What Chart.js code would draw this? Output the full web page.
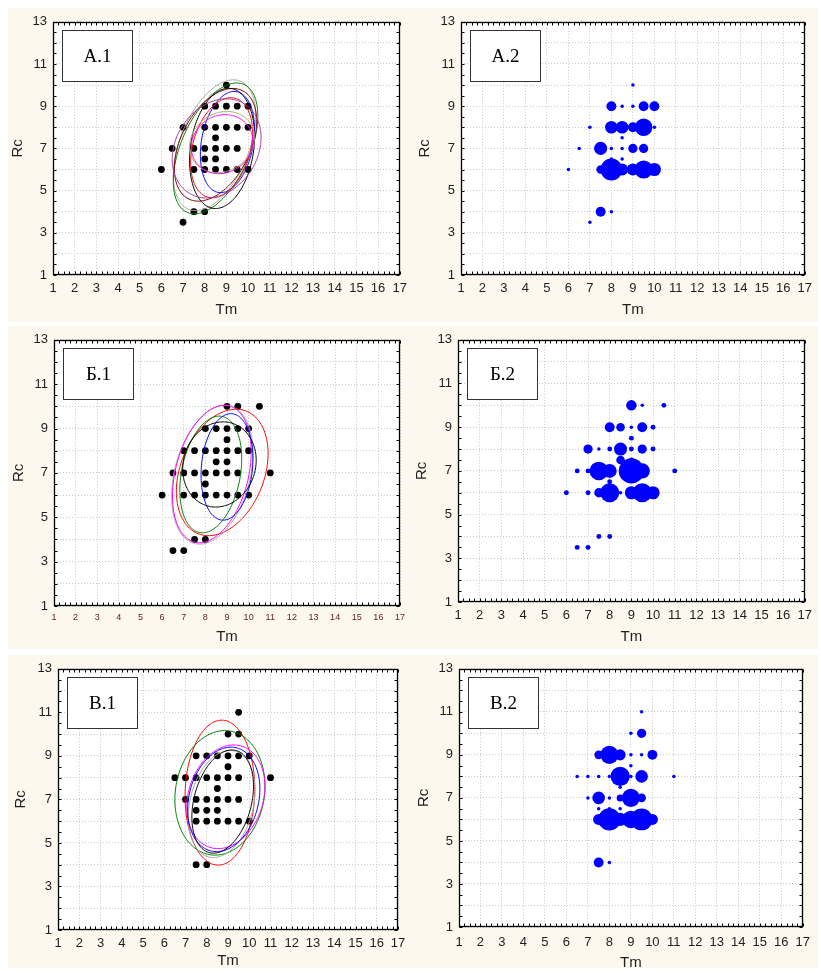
<!DOCTYPE html>
<html>
<head>
<meta charset="utf-8">
<script src="https://cdn.jsdelivr.net/npm/chart.js@4.4.0/dist/chart.umd.min.js"></script>
<style>
  body { margin: 0; background: #fff; width: 821px; height: 973px; position: relative; overflow: hidden; }
  .band { position: absolute; left: 8px; width: 810px; background: #fdf8ee; }
  canvas { position: absolute; }
</style>
</head>
<body>
<div class="band" style="top:8px;height:314px"></div>
<div class="band" style="top:326px;height:323px"></div>
<div class="band" style="top:655px;height:313px"></div>
<canvas id="a1"></canvas><canvas id="a2"></canvas>
<canvas id="b1"></canvas><canvas id="b2"></canvas>
<canvas id="c1"></canvas><canvas id="c2"></canvas>
<script>
// group А: cell positions (Tm, Rc) and number of cases per cell
const tmA = [9, 8, 8.5, 9, 9.5, 10, 7, 8, 8.5, 9, 9.5, 10, 8.5, 6.5, 7.5, 8, 8.5, 9, 9.5, 8, 8.5, 6, 7.5, 8, 8.5, 9, 9.5, 10, 7.5, 8, 7];
const rcA = [10, 9, 9, 9, 9, 9, 8, 8, 8, 8, 8, 8, 7.5, 7, 7, 7, 7, 7, 7, 6.5, 6.5, 6, 6, 6, 6, 6, 6, 6, 4, 4, 3.5];
const nA  = [1, 8, 1, 1, 8, 8, 1, 13, 13, 8, 25, 1, 1, 1, 14, 1, 1, 7, 7, 1, 1, 1, 6, 39, 12, 12, 27, 14, 8, 1, 1];

// group Б
const tmB = [9, 9.5, 10.5, 8, 8.5, 9, 9.5, 10, 9, 7, 7.5, 8, 8.5, 9, 9.5, 10, 8.5, 9, 6.5, 7, 7.5, 8, 8.5, 9, 9.5, 11, 8, 6, 7, 7.5, 8, 8.5, 9, 9.5, 10, 7.5, 8, 6.5, 7];
const rcB = [10, 10, 10, 9, 9, 9, 9, 9, 8.5, 8, 8, 8, 8, 8, 8, 8, 7.5, 7.5, 7, 7, 7, 7, 7, 7, 7, 7, 6.5, 6, 6, 6, 6, 6, 6, 6, 6, 4, 4, 3.5, 3.5];
const nB  = [9, 1, 2, 8, 6, 1, 8, 2, 2, 7, 1, 2, 14, 2, 7, 2, 6, 2, 2, 2, 28, 16, 1, 52, 19, 2, 2, 2, 2, 7, 30, 1, 14, 30, 14, 2, 2, 2, 2];

// group В
const tmC = [9.5, 9, 9.5, 7.5, 8, 8.5, 9, 9.5, 10, 9, 6.5, 7, 7.5, 8, 8.5, 9, 9.5, 11, 8.5, 7, 7.5, 8, 8.5, 9, 9.5, 7.5, 8, 8.5, 7.5, 8, 8.5, 9, 9.5, 10, 7.5, 8];
const rcC = [11, 10, 10, 9, 9, 9, 9, 9, 9, 8.5, 8, 8, 8, 8, 8, 8, 8, 8, 7.5, 7, 7, 7, 7, 7, 7, 6.5, 6.5, 6.5, 6, 6, 6, 6, 6, 6, 4, 4];
const nC  = [1, 1, 7, 6, 27, 10, 1, 1, 8, 1, 1, 1, 1, 1, 30, 1, 13, 1, 1, 1, 13, 1, 4, 27, 6, 1, 1, 1, 10, 41, 14, 25, 39, 10, 8, 1];

// ellipses: [centre Tm, centre Rc, half-width, half-height, correlation]
const ellipsesA = [[8.45, 7.15, 1.9, 3.1, 0.46], [8.5, 7.0, 1.95, 3.1, 0.5], [8.5, 7.17, 1.9, 2.67, 0.42], [8.8, 7.0, 1.5, 2.85, 0.2],
                   [9.05, 7.3, 1.25, 2.4, 0.25], [8.78, 7.03, 1.43, 2.37, 0.3], [8.55, 7.0, 2.05, 2.35, 0.22], [8.8, 7.3, 1.5, 1.45, 0.15], [8.8, 7.2, 1.42, 1.4, 0.1]];
const coloursA = ['#a8a8a8', '#008000', '#800000', '#000000', '#0000ff', '#ff0000', '#a040a0', '#b0b060', '#ff00ff'];
const ellipsesB = [[8.78, 7.02, 2.12, 2.85, 0.3], [8.32, 6.92, 1.88, 3.13, 0.31], [8.3, 6.95, 1.82, 3.1, 0.32], [8.25, 6.93, 1.43, 2.63, 0.27],
                   [9.0, 7.27, 1.2, 2.4, 0.15], [8.65, 7.38, 1.7, 1.92, 0.1]];
const coloursB = ['#ff0000', '#a8a8a8', '#ff00ff', '#008000', '#0000ff', '#000000'];
const ellipsesC = [[8.62, 7.31, 1.64, 3.33, 0.05], [8.62, 7.3, 2.12, 2.86, 0.11], [8.7, 6.79, 1.57, 2.46, 0.25], [8.9, 7.12, 1.84, 2.38, 0.2],
                   [8.8, 7.0, 1.7, 2.4, 0.2], [8.75, 6.9, 1.45, 2.37, 0.3]];
const coloursC = ['#ff0000', '#008000', '#a8a8a8', '#ff00ff', '#0000ff', '#000000'];

const panels = [
  { id: 'a1', label: 'А.1', tm: tmA, rc: rcA, n: nA, ell: ellipsesA, col: coloursA, box: [8, 8, 405, 314],   area: [53, 18, 401, 275],  tmY: 310, rcX: 17.5, xFont: 13 },
  { id: 'a2', label: 'А.2', tm: tmA, rc: rcA, n: nA, bubbles: true,                 box: [413, 8, 405, 314], area: [461, 19, 810, 275], tmY: 310, rcX: 425, xFont: 13 },
  { id: 'b1', label: 'Б.1', tm: tmB, rc: rcB, n: nB, ell: ellipsesB, col: coloursB, box: [8, 326, 405, 323], area: [54, 339, 400, 606], tmY: 637, rcX: 19, xFont: 9 },
  { id: 'b2', label: 'Б.2', tm: tmB, rc: rcB, n: nB, bubbles: true,                 box: [413, 326, 405, 323], area: [458, 338, 809, 602], tmY: 637, rcX: 422, xFont: 13 },
  { id: 'c1', label: 'В.1', tm: tmC, rc: rcC, n: nC, ell: ellipsesC, col: coloursC, box: [8, 655, 405, 318], area: [58, 665, 398, 930], tmY: 961, rcX: 21, xFont: 13 },
  { id: 'c2', label: 'В.2', tm: tmC, rc: rcC, n: nC, bubbles: true,                 box: [413, 655, 405, 318], area: [459, 664, 810, 927], tmY: 963, rcX: 424, xFont: 13 }
];

const sans = '"Liberation Sans", Arial, sans-serif';
const bubbleRadius = c => 1.75 * Math.sqrt(c.raw.n);

// white plot field, frame with minor ticks, ellipses and the panel caption box
const panelDecor = {
  id: 'panelDecor',
  beforeDraw(chart) {
    const { ctx, chartArea: a } = chart;
    ctx.save();
    ctx.fillStyle = '#fff';
    ctx.fillRect(a.left, a.top, a.right - a.left, a.bottom - a.top);
    ctx.restore();
  },
  afterDatasetsDraw(chart, args, opts) {
    const { ctx, chartArea: a, scales: { x, y } } = chart;
    ctx.save();
    (opts.ellipses || []).forEach((e, i) => {
      const [cx, cy, hx, hy, r] = e;
      const s = Math.sqrt(1 - r * r);
      ctx.beginPath();
      for (let k = 0; k <= 180; k++) {
        const t = k / 180 * Math.PI * 2;
        const px = x.getPixelForValue(cx + hx * Math.cos(t));
        const py = y.getPixelForValue(cy + hy * (r * Math.cos(t) + s * Math.sin(t)));
        if (k === 0) ctx.moveTo(px, py); else ctx.lineTo(px, py);
      }
      ctx.closePath();
      ctx.strokeStyle = opts.colours[i];
      ctx.lineWidth = 1;
      ctx.stroke();
    });

    const L = Math.round(a.left) + 0.5, T = Math.round(a.top) + 0.5;
    const R = Math.round(a.right) - 0.5, B = Math.round(a.bottom) - 0.5;
    ctx.strokeStyle = '#000';
    ctx.lineWidth = 1;
    ctx.beginPath();
    for (let v = 1; v <= 17.001; v += 0.25) {
      const px = Math.round(x.getPixelForValue(v)) + 0.5;
      ctx.moveTo(px, T); ctx.lineTo(px, T + 3);
      ctx.moveTo(px, B); ctx.lineTo(px, B - 3);
    }
    for (let v = 1; v <= 13.001; v += 0.5) {
      const py = Math.round(y.getPixelForValue(v)) + 0.5;
      ctx.moveTo(L, py); ctx.lineTo(L + 3, py);
      ctx.moveTo(R, py); ctx.lineTo(R - 3, py);
    }
    ctx.stroke();
    ctx.lineWidth = 1.3;
    ctx.strokeRect(L, T, R - L, B - T);

    const bx = Math.round(a.left) + 9.5, by = Math.round(a.top) + 8.5, bw = 70, bh = 51;
    ctx.fillStyle = '#fff';
    ctx.fillRect(bx, by, bw, bh);
    ctx.lineWidth = 1;
    ctx.strokeStyle = '#333';
    ctx.strokeRect(bx, by, bw, bh);
    ctx.fillStyle = '#000';
    ctx.font = '19px "Liberation Serif", "Times New Roman", serif';
    ctx.textAlign = 'center';
    ctx.textBaseline = 'middle';
    ctx.fillText(opts.label, bx + bw / 2, by + bh / 2 + 1);
    ctx.restore();
  }
};

function makeChart(p) {
  const canvas = document.getElementById(p.id);
  const [bx, by, bw, bh] = p.box;
  const [L, T, R, B] = p.area;
  canvas.width = bw; canvas.height = bh;
  canvas.style.left = bx + 'px'; canvas.style.top = by + 'px';

  const points = p.tm.map((v, i) => ({ x: v, y: p.rc[i], n: p.n[i] }));
  const dataset = p.bubbles
    ? { data: points, backgroundColor: '#0000ff', borderWidth: 0, pointRadius: bubbleRadius, pointHoverRadius: bubbleRadius }
    : { data: points, backgroundColor: '#000', borderWidth: 0, pointRadius: 3.4 };

  new Chart(canvas, {
    type: 'scatter',
    data: { datasets: [dataset] },
    plugins: [panelDecor],
    options: {
      responsive: false,
      animation: false,
      devicePixelRatio: 1,
      layout: { padding: { left: 0, top: T - by, right: bx + bw - R, bottom: 0 } },
      plugins: {
        legend: { display: false },
        tooltip: { enabled: false },
        panelDecor: { label: p.label, ellipses: p.ell, colours: p.col }
      },
      scales: {
        x: {
          type: 'linear', min: 1, max: 17,
          afterFit: s => { s.height = by + bh - B; },
          ticks: { stepSize: 1, autoSkip: false, maxRotation: 0, padding: p.id === 'c2' ? 8 : 6,
                   color: p.xFont < 10 ? '#5e1c1c' : '#1e1e1e', font: { family: sans, size: p.xFont } },
          grid: { color: '#c8c8c8', lineWidth: 1, drawTicks: false },
          border: { display: false, dash: [1, 2] },
          title: { display: true, text: 'Tm', color: '#1e1e1e', font: { family: sans, size: 15, lineHeight: 1 },
                   padding: { top: 0, bottom: by + bh - p.tmY - 7.5 } }
        },
        y: {
          type: 'linear', min: 1, max: 13,
          afterFit: s => { s.width = L - bx; },
          ticks: { stepSize: 1, autoSkip: false, padding: 6, color: '#1e1e1e', font: { family: sans, size: 13 },
                   callback: v => (v % 2 === 1 ? v : '') },
          grid: { color: '#c8c8c8', lineWidth: 1, drawTicks: false },
          border: { display: false, dash: [1, 2] },
          title: { display: true, text: 'Rc', color: '#1e1e1e', font: { family: sans, size: 15, lineHeight: 1 },
                   padding: { top: p.rcX - bx - 7.5, bottom: 0 } }
        }
      }
    }
  });
}

panels.forEach(makeChart);
</script>
</body>
</html>
